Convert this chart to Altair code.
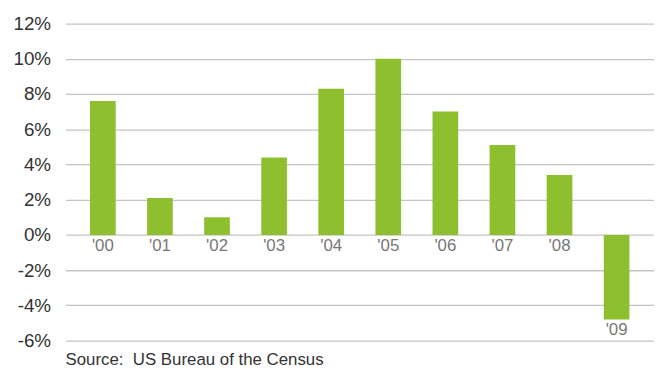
import altair as alt
import pandas as pd

years = ["'00", "'01", "'02", "'03", "'04", "'05", "'06", "'07", "'08", "'09"]
growth = [7.6, 2.1, 1.0, 4.4, 8.3, 10.0, 7.0, 5.1, 3.4, -4.8]
y_ticks = [-6, -4, -2, 0, 2, 4, 6, 8, 10, 12]
source = "Source:\u00a0 US Bureau of the Census"

df = pd.DataFrame({"year": years, "growth": growth})
df["label_y"] = df["growth"].clip(upper=0)

FONT = "Liberation Sans"

xscale = alt.Scale(domain=years, paddingInner=0.55, paddingOuter=0.43)
yscale = alt.Scale(domain=[-6, 12], nice=False, zero=False)

y_axis = alt.Axis(
    values=y_ticks,
    labelExpr="datum.value + '%'",
    title=None,
    domain=False,
    ticks=False,
    grid=True,
    gridColor="#c4c4c4",
    gridWidth=1.3,
    labelFont=FONT,
    labelFontSize=19,
    labelColor="#333333",
    labelPadding=15,
    labelOverlap=False,
    labelBound=False,
    labelFlush=False,
)

base = alt.Chart(df)

bars = base.mark_bar(color="#8dbf2e").encode(
    x=alt.X("year:N", scale=xscale, axis=None, sort=years),
    y=alt.Y("growth:Q", scale=yscale, axis=y_axis),
    y2=alt.datum(0),
)

labels = base.mark_text(
    font=FONT, fontSize=17, color="#777777", baseline="top", dy=3
).encode(
    x=alt.X("year:N", scale=xscale, sort=years, axis=None),
    y=alt.Y("label_y:Q", scale=yscale, axis=y_axis),
    text="year:N",
)

chart = (
    alt.layer(bars, labels)
    .properties(
        width=594,
        height=320,
        autosize=alt.AutoSizeParams(type="none"),
        padding={"left": 58, "top": 14, "right": 0, "bottom": 28},
        title=alt.TitleParams(
            source,
            orient="bottom",
            anchor="start",
            frame="group",
            font=FONT,
            fontSize=17,
            fontWeight="normal",
            color="#333333",
            offset=2,
        ),
    )
    .configure_view(stroke=None)
)

chart.save("out.html", embed_options={"renderer": "svg", "actions": False})
